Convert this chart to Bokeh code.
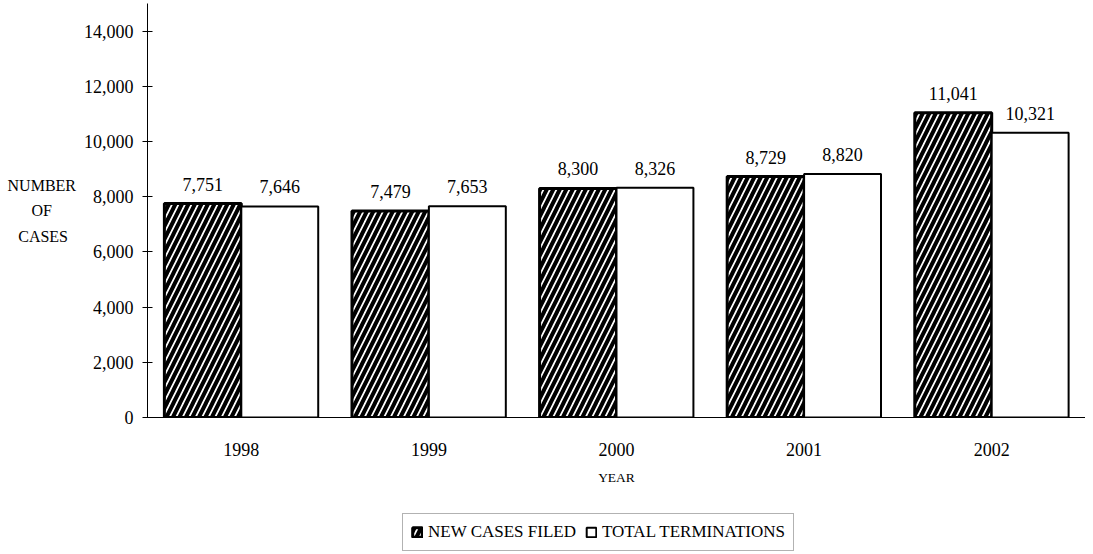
from bokeh.plotting import figure
from bokeh.layouts import column
from bokeh.models import ColumnDataSource, Legend, LegendItem, NumeralTickFormatter, FixedTicker
from bokeh.transform import dodge
from bokeh.embed import file_html
from bokeh.resources import INLINE
from bokeh.core.properties import value

years = ["1998", "1999", "2000", "2001", "2002"]
new_cases = [7751, 7479, 8300, 8729, 11041]
terminations = [7646, 7653, 8326, 8820, 10321]
y_ticks = [0, 2000, 4000, 6000, 8000, 10000, 12000, 14000]
series_names = ["NEW CASES FILED", "TOTAL TERMINATIONS"]

src = ColumnDataSource(dict(
    years=years, new=new_cases, term=terminations,
    new_lbl=[f"{v:,}" for v in new_cases],
    term_lbl=[f"{v:,}" for v in terminations],
))

FONT = "Liberation Serif"
HATCHED = dict(fill_color="white", line_color="black", line_width=3,
               hatch_pattern="right_diagonal_line", hatch_color="black",
               hatch_scale=13, hatch_weight=4)
PLAIN = dict(fill_color="white", line_color="black", line_width=2)

p = figure(x_range=years, y_range=(0, 15000), frame_width=938, frame_height=414,
           output_backend="svg", toolbar_location=None,
           min_border_left=147, min_border_right=0, min_border_top=3, min_border_bottom=90)
p.x_range.range_padding = 0
p.outline_line_color = None
p.grid.grid_line_color = None

p.vbar(x=dodge("years", -0.205, range=p.x_range), top="new", width=0.41, source=src, **HATCHED)
p.vbar(x=dodge("years", 0.205, range=p.x_range), top="term", width=0.41, source=src, **PLAIN)

for ycol, lcol, off in [("new", "new_lbl", -0.205), ("term", "term_lbl", 0.205)]:
    p.text(x=dodge("years", off, range=p.x_range), y=ycol, text=lcol, source=src,
           text_align="center", text_baseline="bottom", y_offset=-13,
           text_font=value(FONT), text_font_size="18px", text_color="black")

NB = "\u00a0"
ya = p.yaxis[0]
ya.ticker = FixedTicker(ticks=y_ticks)
ya.formatter = NumeralTickFormatter(format="0,0")
ya.minor_tick_line_color = None
ya.major_tick_in = 5
ya.major_tick_out = 5
ya.major_label_standoff = 9
ya.major_label_text_font = FONT
ya.major_label_text_font_size = "18px"
ya.major_label_text_color = "black"
ya.axis_label = "NUMBER\nOF" + NB * 6 + "\nCASES" + NB * 2
ya.axis_label_orientation = "horizontal"
ya.axis_label_text_line_height = 1.5
ya.axis_label_text_font = FONT
ya.axis_label_text_font_size = "16px"
ya.axis_label_text_font_style = "normal"
ya.axis_label_text_color = "black"
ya.axis_label_standoff = 5
ya.axis_line_color = "black"

xa = p.xaxis[0]
xa.major_tick_line_color = None
xa.minor_tick_line_color = None
xa.major_label_standoff = 19
xa.major_label_text_font = FONT
xa.major_label_text_font_size = "18px"
xa.major_label_text_color = "black"
xa.axis_label = "YEAR"
xa.axis_label_text_font = FONT
xa.axis_label_text_font_size = "13.5px"
xa.axis_label_text_font_style = "normal"
xa.axis_label_text_color = "black"
xa.axis_label_standoff = 11

# legend strip below the chart; its renderers are hidden, only the legend shows
lg = figure(width=1085, height=47, output_backend="svg", toolbar_location=None,
            x_range=years, y_range=(0, 15000),
            min_border_left=0, min_border_right=0, min_border_top=0, min_border_bottom=0)
lg.axis.visible = False
lg.grid.grid_line_color = None
lg.outline_line_color = None
g1 = lg.vbar(x="years", top="new", width=0.41, source=src, visible=False, **HATCHED)
g2 = lg.vbar(x="years", top="term", width=0.41, source=src, visible=False, **PLAIN)
legend = Legend(items=[LegendItem(label=series_names[0], renderers=[g1]),
                       LegendItem(label=series_names[1], renderers=[g2])],
                orientation="horizontal", location=(255, 3),
                label_text_font=FONT, label_text_font_size="17px", label_text_color="black",
                label_height=16, glyph_width=12, glyph_height=12, spacing=9, label_standoff=5,
                padding=8, margin=0, inactive_fill_alpha=0,
                border_line_color="#666666", border_line_width=1)
lg.add_layout(legend, "center")

layout = column(p, lg, spacing=0)
open("out.html", "w").write(file_html(layout, INLINE))
